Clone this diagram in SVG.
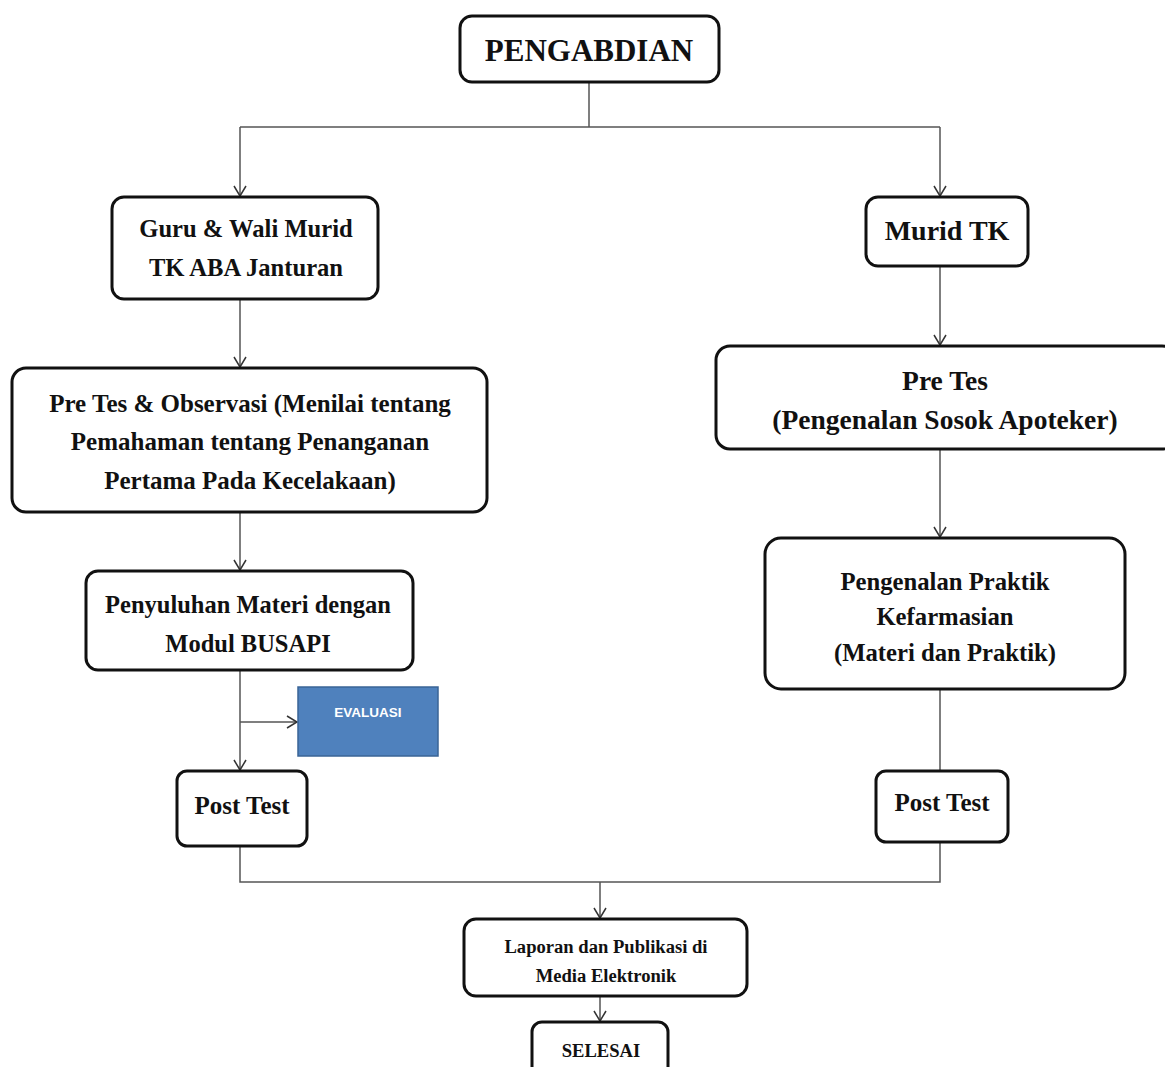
<svg xmlns="http://www.w3.org/2000/svg" width="1165" height="1067" viewBox="0 0 1165 1067">
<defs>
<marker id="arr" markerWidth="14" markerHeight="14" refX="12" refY="7" orient="auto" markerUnits="userSpaceOnUse" viewBox="0 0 14 14">
<polyline points="2,1 12,7 2,13" fill="none" stroke="#333" stroke-width="1.5"/>
</marker>
</defs>
<style>
.box{fill:#fff;stroke:#111;stroke-width:3}
.t{font-family:"Liberation Serif","Times New Roman",serif;font-weight:bold;fill:#111;text-anchor:middle}
.c{fill:none;stroke:#555;stroke-width:1.5}
</style>
<rect width="1165" height="1067" fill="#fff"/>
<g id="connectors">
<polyline class="c" points="589,82 589,127"/>
<polyline class="c" points="240,127 940,127"/>
<line class="c" x1="240" y1="127" x2="240" y2="196" marker-end="url(#arr)"/>
<line class="c" x1="940" y1="127" x2="940" y2="196" marker-end="url(#arr)"/>
<line class="c" x1="240" y1="299" x2="240" y2="367" marker-end="url(#arr)"/>
<line class="c" x1="240" y1="512" x2="240" y2="570" marker-end="url(#arr)"/>
<line class="c" x1="240" y1="670" x2="240" y2="770" marker-end="url(#arr)"/>
<line class="c" x1="240" y1="722" x2="297" y2="722" stroke="#222" marker-end="url(#arr)"/>
<polyline class="c" points="240,846 240,882 940,882 940,842"/>
<line class="c" x1="600" y1="882" x2="600" y2="918" marker-end="url(#arr)"/>
<line class="c" x1="600" y1="996" x2="600" y2="1021" marker-end="url(#arr)"/>
<line class="c" x1="940" y1="266" x2="940" y2="345" marker-end="url(#arr)"/>
<line class="c" x1="940" y1="449" x2="940" y2="537" marker-end="url(#arr)"/>
<line class="c" x1="940" y1="689" x2="940" y2="771"/>
</g>
<g id="pengabdian">
<rect class="box" x="460" y="16" width="259" height="66" rx="12"/>
<text class="t" x="589" y="61" font-size="31">PENGABDIAN</text>
</g>
<g id="guru">
<rect class="box" x="112" y="197" width="266" height="102" rx="12"/>
<text class="t" x="246" y="237" font-size="24.6">Guru &amp; Wali Murid</text>
<text class="t" x="246" y="276" font-size="24.6">TK ABA Janturan</text>
</g>
<g id="murid">
<rect class="box" x="866" y="197" width="162" height="69" rx="12"/>
<text class="t" x="947" y="240" font-size="28">Murid TK</text>
</g>
<g id="pretes-obs">
<rect class="box" x="12" y="368" width="475" height="144" rx="14"/>
<text class="t" x="250" y="412" font-size="25">Pre Tes &amp; Observasi (Menilai tentang</text>
<text class="t" x="250" y="450" font-size="25">Pemahaman tentang Penanganan</text>
<text class="t" x="250" y="489" font-size="25">Pertama Pada Kecelakaan)</text>
</g>
<g id="penyuluhan">
<rect class="box" x="86" y="571" width="327" height="99" rx="12"/>
<text class="t" x="248" y="613" font-size="24.5">Penyuluhan Materi dengan</text>
<text class="t" x="248" y="652" font-size="24.5">Modul BUSAPI</text>
</g>
<g id="evaluasi">
<rect x="298" y="687" width="140" height="69" fill="#4F81BD" stroke="#3A6496" stroke-width="1.5"/>
<text x="368" y="717" font-size="13.5" font-family="'Liberation Sans Narrow','Liberation Sans',Arial,sans-serif" font-weight="bold" fill="#fff" text-anchor="middle">EVALUASI</text>
</g>
<g id="posttest-l">
<rect class="box" x="177" y="771" width="130" height="75" rx="10"/>
<text class="t" x="242" y="814" font-size="25">Post Test</text>
</g>
<g id="pretes-r">
<rect class="box" x="716" y="346" width="460" height="103" rx="14"/>
<text class="t" x="945" y="390" font-size="27.5">Pre Tes</text>
<text class="t" x="945" y="429" font-size="27.5">(Pengenalan Sosok Apoteker)</text>
</g>
<g id="praktik">
<rect class="box" x="765" y="538" width="360" height="151" rx="16"/>
<text class="t" x="945" y="590" font-size="24.7">Pengenalan Praktik</text>
<text class="t" x="945" y="625" font-size="24.7">Kefarmasian</text>
<text class="t" x="945" y="661" font-size="24.7">(Materi dan Praktik)</text>
</g>
<g id="posttest-r">
<rect class="box" x="876" y="771" width="132" height="71" rx="10"/>
<text class="t" x="942" y="811" font-size="25">Post Test</text>
</g>
<g id="laporan">
<rect class="box" x="464" y="919" width="283" height="77" rx="12"/>
<text class="t" x="606" y="953" font-size="18.6">Laporan dan Publikasi di</text>
<text class="t" x="606" y="982" font-size="18.6">Media Elektronik</text>
</g>
<g id="selesai">
<rect class="box" x="532" y="1022" width="136" height="60" rx="10"/>
<text class="t" x="601" y="1057" font-size="18.6">SELESAI</text>
</g>
</svg>
